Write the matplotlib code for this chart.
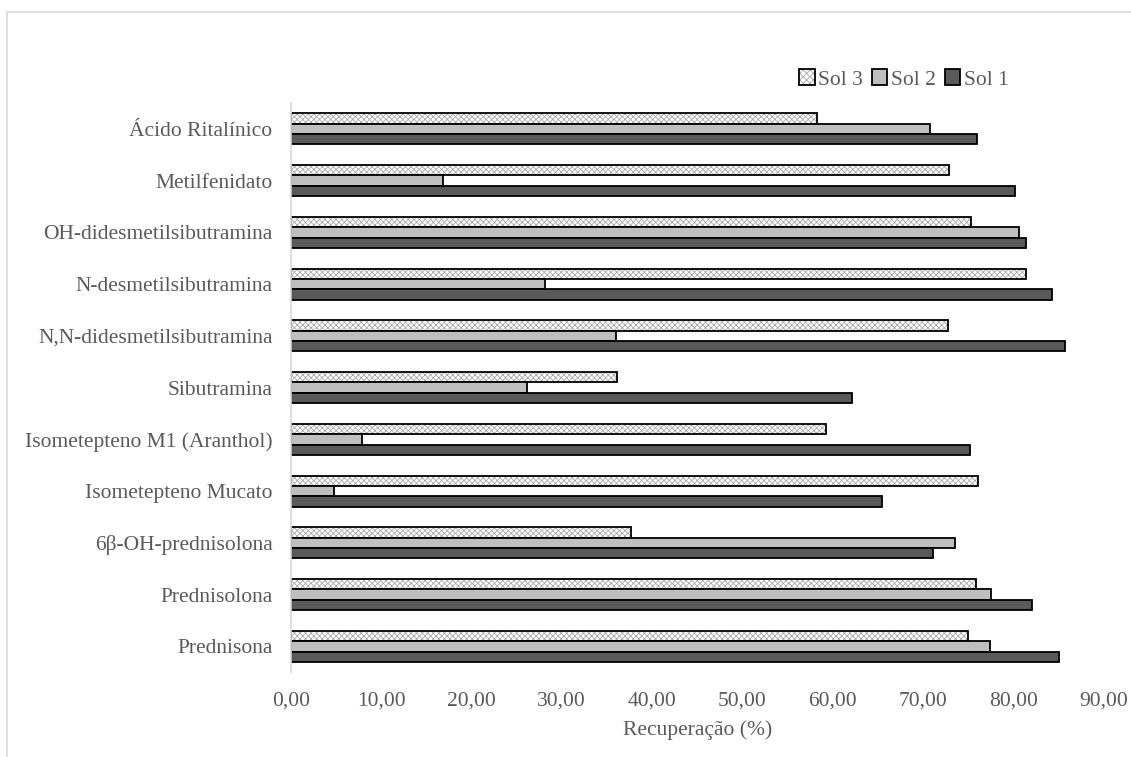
import numpy as np
import matplotlib
matplotlib.use("Agg")
import matplotlib.pyplot as plt
from matplotlib.patches import Patch, Rectangle
from matplotlib.legend_handler import HandlerTuple
from matplotlib.ticker import FuncFormatter, MultipleLocator

plt.rcParams['font.family'] = ['Liberation Serif', 'DejaVu Serif']
plt.rcParams['hatch.color'] = '#a8a8a8'
plt.rcParams['hatch.linewidth'] = 0.6

compostos = ['Ácido Ritalínico', 'Metilfenidato', 'OH-didesmetilsibutramina',
             'N-desmetilsibutramina', 'N,N-didesmetilsibutramina', 'Sibutramina',
             'Isometepteno M1 (Aranthol)', 'Isometepteno Mucato',
             '6β-OH-prednisolona', 'Prednisolona', 'Prednisona']

sol1 = [76.0, 80.2, 81.4, 84.3, 85.7, 62.1, 75.2, 65.4, 71.1, 82.1, 85.0]
sol2 = [70.8, 16.9, 80.6, 28.2, 36.0, 26.2, 7.9, 4.8, 73.5, 77.5, 77.4]
sol3 = [58.3, 72.9, 75.3, 81.4, 72.7, 36.1, 59.2, 76.1, 37.7, 75.8, 75.0]

fs = 15.5
cinza_txt = '#595959'

fig = plt.figure(figsize=(11.31, 7.57), dpi=100)
ax = fig.add_axes([0.257, 0.112, 0.719, 0.752])

y = np.arange(len(compostos))
h = 0.2

# Sol 3: fundo pontilhado + contorno preto por cima
ax.barh(y - h, sol3, height=h, color='white', hatch='xxxxxx', linewidth=0)
ax.barh(y - h, sol3, height=h, fill=False, edgecolor='black', linewidth=1.3)
ax.barh(y, sol2, height=h, color='#bfbfbf', edgecolor='black', linewidth=1.3)
ax.barh(y + h, sol1, height=h, color='#595959', edgecolor='black', linewidth=1.3)

ax.set_ylim(len(compostos) - 0.5, -0.5)
ax.set_xlim(0, 90)
ax.xaxis.set_major_locator(MultipleLocator(10))
ax.xaxis.set_major_formatter(FuncFormatter(lambda v, p: f'{v:.2f}'.replace('.', ',')))
ax.set_yticks(y)
ax.set_yticklabels(compostos)
ax.tick_params(axis='both', length=0, labelsize=fs, colors=cinza_txt)
ax.tick_params(axis='y', pad=13)
ax.tick_params(axis='x', pad=14)

for s in ['top', 'right', 'bottom']:
    ax.spines[s].set_visible(False)
ax.spines['left'].set_color('#d9d9d9')
ax.spines['left'].set_linewidth(1.2)

ax.set_xlabel('Recuperação (%)', fontsize=fs, color=cinza_txt, labelpad=7)

# legenda (ordem: Sol 3, Sol 2, Sol 1)
h3 = (Patch(facecolor='white', hatch='xxxxx', linewidth=0),
      Patch(fill=False, edgecolor='black', linewidth=1.3))
h2 = Patch(facecolor='#bfbfbf', edgecolor='black', linewidth=1.3)
h1 = Patch(facecolor='#595959', edgecolor='black', linewidth=1.3)
fig.legend([h3, h2, h1], ['Sol 3', 'Sol 2', 'Sol 1'],
           handler_map={tuple: HandlerTuple(ndivide=1, pad=0)},
           loc='center right', bbox_to_anchor=(0.901, 0.895), ncol=3,
           frameon=False, fontsize=fs, labelcolor=cinza_txt,
           handlelength=0.7, handleheight=0.7, handletextpad=0.15,
           columnspacing=0.45, borderpad=0)

# moldura da área do gráfico
fig.patches.append(Rectangle((7 / 1131, -0.01), 1.05, 1 - 12 / 757 + 0.01,
                             transform=fig.transFigure, fill=False,
                             edgecolor='#d9d9d9', linewidth=1.2))

fig.savefig('out.png', dpi=100)
